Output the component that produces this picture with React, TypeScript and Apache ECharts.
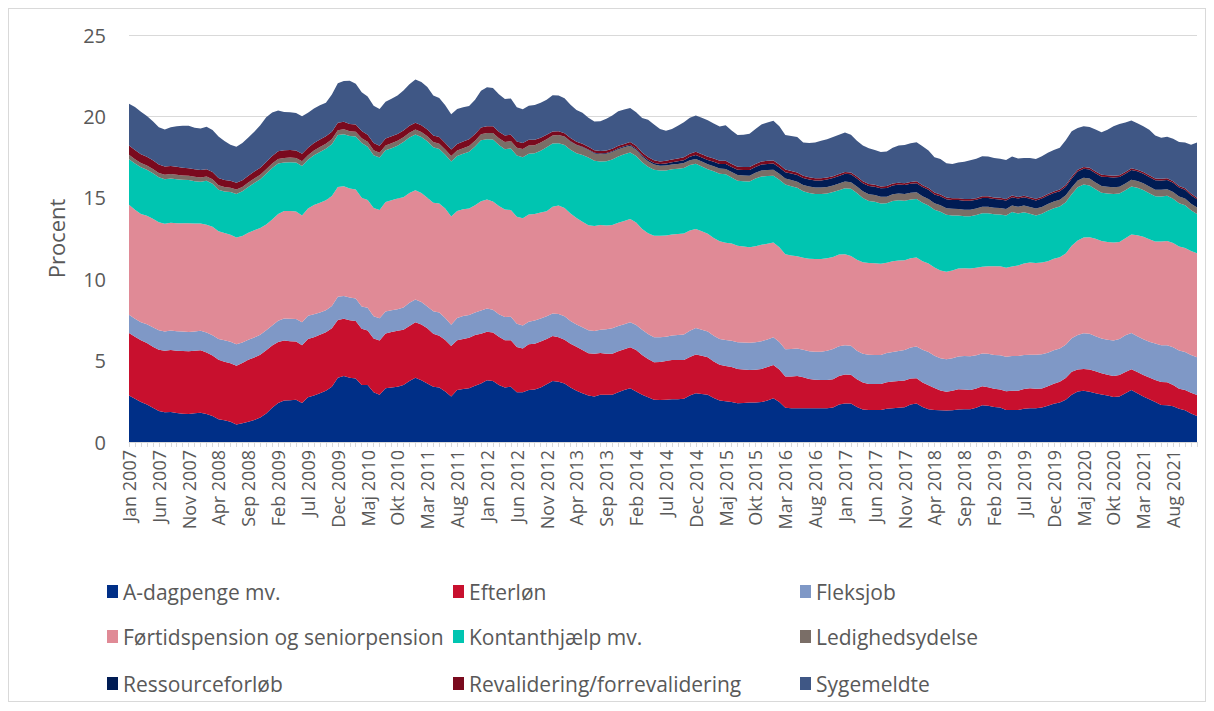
import { useEffect, useRef } from "react";
import * as echarts from "echarts";

const monthNames = ["Jan", "Feb", "Mar", "Apr", "Maj", "Jun", "Jul", "Aug", "Sep", "Okt", "Nov", "Dec"];
const years = [2007, 2008, 2009, 2010, 2011, 2012, 2013, 2014, 2015, 2016, 2017, 2018, 2019, 2020, 2021];
const categories = years.flatMap((y) => monthNames.map((m) => `${m} ${y}`));

const seriesNames = [
  "A-dagpenge mv.",
  "Efterløn",
  "Fleksjob",
  "Førtidspension og seniorpension",
  "Kontanthjælp mv.",
  "Ledighedsydelse",
  "Ressourceforløb",
  "Revalidering/forrevalidering",
  "Sygemeldte",
];

const seriesColors = ["#002F87", "#C8102E", "#7F98C6", "#E08A96", "#00C5B1", "#7A6E67", "#001C54", "#7A0A1E", "#3F5785"];

const aDagpenge = [
  2.85, 2.65, 2.45, 2.3, 2.1, 1.9, 1.82, 1.85, 1.78, 1.74, 1.72, 1.76, 1.8, 1.72, 1.6, 1.4, 1.33, 1.25, 1.08, 1.15, 1.25, 1.35, 1.5, 1.75, 2.1, 2.4, 2.55, 2.57, 2.6, 2.4,
  2.75, 2.85, 3.0, 3.15, 3.4, 3.95, 4.05, 3.95, 3.9, 3.5, 3.5, 3.05, 2.9, 3.3, 3.35, 3.4, 3.5, 3.75, 3.95, 3.8, 3.6, 3.4, 3.35, 3.1, 2.8, 3.2, 3.25, 3.3, 3.45, 3.6,
  3.8, 3.75, 3.5, 3.35, 3.4, 3.05, 3.05, 3.2, 3.22, 3.35, 3.55, 3.75, 3.7, 3.6, 3.35, 3.15, 3.0, 2.85, 2.8, 2.9, 2.9, 2.9, 3.05, 3.2, 3.3, 3.1, 2.9, 2.75, 2.6, 2.58,
  2.6, 2.62, 2.62, 2.65, 2.85, 3.0, 2.95, 2.9, 2.7, 2.55, 2.5, 2.45, 2.38, 2.4, 2.42, 2.42, 2.45, 2.55, 2.68, 2.45, 2.1, 2.07, 2.07, 2.07, 2.07, 2.07, 2.07, 2.07, 2.12, 2.3,
  2.37, 2.37, 2.15, 2.0, 1.97, 1.97, 1.97, 2.05, 2.08, 2.1, 2.13, 2.3, 2.37, 2.15, 2.01, 1.97, 1.95, 1.93, 1.95, 2.0, 2.01, 2.01, 2.1, 2.25, 2.22, 2.15, 2.12, 1.97, 1.97, 1.97,
  2.05, 2.07, 2.07, 2.12, 2.22, 2.35, 2.42, 2.6, 2.9, 3.1, 3.15, 3.08, 3.0, 2.92, 2.85, 2.76, 2.8, 3.0, 3.2, 3.0, 2.8, 2.62, 2.45, 2.28, 2.25, 2.2, 2.05, 1.95, 1.75, 1.6,
];

const efterloen = [
  3.84, 3.82, 3.8, 3.78, 3.75, 3.76, 3.78, 3.8, 3.82, 3.85, 3.86, 3.85, 3.84, 3.78, 3.72, 3.65, 3.6, 3.58, 3.6, 3.7, 3.8, 3.84, 3.86, 3.88, 3.82, 3.75, 3.68, 3.62, 3.58, 3.55,
  3.58, 3.59, 3.59, 3.59, 3.58, 3.55, 3.52, 3.53, 3.54, 3.45, 3.35, 3.3, 3.33, 3.36, 3.4, 3.43, 3.4, 3.38, 3.4, 3.42, 3.38, 3.25, 3.18, 3.17, 3.1, 3.05, 3.07, 3.1, 3.12, 3.05,
  2.97, 2.97, 2.97, 2.9, 2.85, 2.78, 2.7, 2.8, 2.82, 2.82, 2.78, 2.76, 2.74, 2.68, 2.68, 2.7, 2.65, 2.6, 2.62, 2.57, 2.52, 2.52, 2.52, 2.5, 2.52, 2.55, 2.45, 2.35, 2.3, 2.33,
  2.38, 2.42, 2.42, 2.38, 2.37, 2.38, 2.35, 2.31, 2.25, 2.2, 2.17, 2.15, 2.1, 2.05, 2.0, 2.02, 2.04, 2.05, 2.05, 2.0, 1.92, 1.95, 1.98, 1.9, 1.8, 1.76, 1.74, 1.74, 1.74, 1.75,
  1.78, 1.76, 1.7, 1.65, 1.6, 1.59, 1.59, 1.62, 1.63, 1.64, 1.64, 1.6, 1.54, 1.5, 1.48, 1.35, 1.22, 1.16, 1.2, 1.24, 1.22, 1.18, 1.18, 1.17, 1.15, 1.12, 1.11, 1.14, 1.18, 1.18,
  1.2, 1.23, 1.2, 1.17, 1.2, 1.23, 1.28, 1.33, 1.42, 1.35, 1.33, 1.37, 1.35, 1.3, 1.28, 1.3, 1.31, 1.3, 1.27, 1.3, 1.32, 1.34, 1.36, 1.4, 1.42, 1.3, 1.22, 1.25, 1.27, 1.29,
];

const fleksjob = [
  1.12, 1.1, 1.1, 1.15, 1.2, 1.2, 1.19, 1.2, 1.21, 1.2, 1.18, 1.18, 1.2, 1.22, 1.24, 1.28, 1.32, 1.33, 1.32, 1.26, 1.23, 1.23, 1.23, 1.23, 1.23, 1.3, 1.36, 1.38, 1.38, 1.4,
  1.42, 1.4, 1.37, 1.35, 1.38, 1.42, 1.4, 1.39, 1.38, 1.38, 1.39, 1.38, 1.37, 1.36, 1.34, 1.32, 1.36, 1.42, 1.4, 1.38, 1.35, 1.38, 1.42, 1.35, 1.3, 1.36, 1.42, 1.4, 1.38, 1.42,
  1.43, 1.4, 1.38, 1.43, 1.44, 1.43, 1.4, 1.38, 1.42, 1.42, 1.4, 1.39, 1.42, 1.44, 1.4, 1.36, 1.4, 1.42, 1.4, 1.43, 1.5, 1.56, 1.55, 1.54, 1.53, 1.53, 1.54, 1.54, 1.53, 1.52,
  1.48, 1.5, 1.53, 1.58, 1.62, 1.63, 1.6, 1.58, 1.58, 1.58, 1.59, 1.62, 1.64, 1.66, 1.68, 1.69, 1.7, 1.7, 1.7, 1.69, 1.68, 1.69, 1.7, 1.7, 1.7, 1.72, 1.74, 1.8, 1.86, 1.83,
  1.79, 1.78, 1.76, 1.77, 1.79, 1.79, 1.79, 1.79, 1.82, 1.85, 1.88, 1.9, 1.96, 2.02, 2.04, 1.98, 1.97, 1.99, 2.0, 2.01, 2.05, 2.08, 2.05, 2.02, 2.05, 2.08, 2.1, 2.12, 2.13, 2.13,
  2.1, 2.06, 2.09, 2.1, 2.06, 2.05, 2.05, 2.05, 2.05, 2.12, 2.2, 2.2, 2.15, 2.13, 2.15, 2.17, 2.22, 2.26, 2.22, 2.2, 2.19, 2.2, 2.24, 2.26, 2.28, 2.32, 2.35, 2.33, 2.32, 2.31,
];

const foertidspension = [
  6.76, 6.7, 6.66, 6.66, 6.66, 6.64, 6.61, 6.61, 6.63, 6.65, 6.67, 6.63, 6.58, 6.62, 6.66, 6.62, 6.59, 6.57, 6.56, 6.55, 6.57, 6.59, 6.55, 6.5, 6.52, 6.56, 6.6, 6.62, 6.6, 6.56,
  6.6, 6.72, 6.74, 6.76, 6.75, 6.75, 6.74, 6.7, 6.69, 6.68, 6.62, 6.64, 6.65, 6.72, 6.76, 6.8, 6.78, 6.75, 6.72, 6.7, 6.68, 6.66, 6.7, 6.72, 6.65, 6.58, 6.55, 6.55, 6.6, 6.72,
  6.7, 6.66, 6.64, 6.6, 6.56, 6.58, 6.6, 6.6, 6.54, 6.5, 6.45, 6.55, 6.66, 6.65, 6.6, 6.55, 6.48, 6.45, 6.45, 6.43, 6.38, 6.35, 6.34, 6.34, 6.35, 6.3, 6.2, 6.18, 6.24, 6.24,
  6.22, 6.21, 6.21, 6.2, 6.15, 6.08, 6.05, 6.0, 6.0, 6.0, 5.98, 5.97, 5.94, 5.9, 5.87, 5.9, 5.92, 5.88, 5.82, 5.82, 5.83, 5.75, 5.66, 5.64, 5.68, 5.69, 5.69, 5.68, 5.65, 5.63,
  5.6, 5.52, 5.58, 5.62, 5.63, 5.63, 5.6, 5.55, 5.58, 5.56, 5.52, 5.48, 5.46, 5.44, 5.43, 5.42, 5.4, 5.38, 5.39, 5.41, 5.4, 5.39, 5.37, 5.33, 5.38, 5.44, 5.46, 5.48, 5.5, 5.56,
  5.62, 5.66, 5.64, 5.63, 5.63, 5.62, 5.6, 5.6, 5.68, 5.8, 5.88, 5.92, 5.98, 6.0, 6.01, 6.02, 5.96, 5.95, 6.05, 6.2, 6.3, 6.3, 6.27, 6.38, 6.4, 6.4, 6.39, 6.39, 6.39, 6.39,
];

const kontanthjaelp = [
  2.8, 2.83, 2.86, 2.83, 2.8, 2.76, 2.74, 2.73, 2.7, 2.67, 2.66, 2.6, 2.56, 2.7, 2.65, 2.55, 2.55, 2.62, 2.68, 2.74, 2.82, 2.9, 3.0, 3.12, 3.16, 3.1, 2.98, 3.0, 3.01, 3.05,
  2.98, 3.05, 3.12, 3.17, 3.18, 3.18, 3.2, 3.22, 3.25, 3.35, 3.28, 3.25, 3.22, 3.18, 3.2, 3.25, 3.38, 3.4, 3.42, 3.44, 3.46, 3.42, 3.35, 3.3, 3.38, 3.38, 3.42, 3.48, 3.6, 3.75,
  3.7, 3.8, 3.75, 3.7, 3.78, 3.76, 3.74, 3.73, 3.73, 3.8, 3.92, 3.88, 3.83, 3.88, 3.92, 3.98, 4.1, 4.15, 4.0, 3.9, 3.95, 4.03, 4.08, 4.1, 4.09, 4.09, 4.09, 4.09, 4.05, 4.0,
  4.0, 4.0, 4.0, 4.02, 4.02, 4.0, 3.98, 3.97, 4.1, 4.15, 4.2, 4.05, 3.99, 4.0, 4.03, 4.15, 4.2, 4.16, 4.1, 4.15, 4.28, 4.25, 4.2, 4.1, 4.05, 4.0, 3.99, 3.98, 3.98, 3.96,
  4.05, 4.12, 4.1, 3.95, 3.82, 3.78, 3.7, 3.65, 3.7, 3.7, 3.65, 3.62, 3.6, 3.58, 3.56, 3.54, 3.6, 3.5, 3.38, 3.25, 3.19, 3.21, 3.24, 3.28, 3.25, 3.2, 3.19, 3.2, 3.35, 3.2,
  3.15, 3.0, 2.92, 3.0, 3.1, 3.11, 3.12, 3.15, 3.17, 3.28, 3.25, 3.19, 3.05, 2.96, 2.98, 2.99, 2.98, 2.96, 2.96, 2.92, 2.87, 2.82, 2.77, 2.76, 2.77, 2.72, 2.66, 2.62, 2.5, 2.41,
];

const ledighedsydelse = [
  0.27, 0.27, 0.26, 0.26, 0.26, 0.26, 0.27, 0.27, 0.27, 0.26, 0.26, 0.27, 0.27, 0.27, 0.27, 0.27, 0.27, 0.27, 0.27, 0.27, 0.27, 0.27, 0.27, 0.27, 0.27, 0.28, 0.28, 0.28, 0.28, 0.29,
  0.29, 0.29, 0.3, 0.3, 0.3, 0.3, 0.3, 0.3, 0.3, 0.3, 0.3, 0.3, 0.3, 0.3, 0.3, 0.3, 0.3, 0.3, 0.3, 0.3, 0.31, 0.31, 0.32, 0.32, 0.33, 0.33, 0.34, 0.35, 0.36, 0.37,
  0.38, 0.4, 0.42, 0.44, 0.46, 0.48, 0.5, 0.5, 0.5, 0.5, 0.5, 0.5, 0.5, 0.5, 0.5, 0.5, 0.48, 0.46, 0.45, 0.45, 0.45, 0.45, 0.44, 0.42, 0.4, 0.38, 0.36, 0.34, 0.32, 0.3,
  0.3, 0.3, 0.3, 0.3, 0.3, 0.3, 0.3, 0.3, 0.31, 0.32, 0.33, 0.34, 0.35, 0.36, 0.36, 0.36, 0.37, 0.37, 0.37, 0.37, 0.37, 0.38, 0.38, 0.38, 0.39, 0.39, 0.4, 0.4, 0.41, 0.41,
  0.41, 0.41, 0.41, 0.41, 0.41, 0.41, 0.41, 0.41, 0.41, 0.41, 0.41, 0.41, 0.41, 0.41, 0.41, 0.4, 0.4, 0.4, 0.4, 0.4, 0.4, 0.4, 0.4, 0.4, 0.4, 0.4, 0.4, 0.4, 0.4, 0.41,
  0.41, 0.42, 0.42, 0.42, 0.41, 0.41, 0.41, 0.42, 0.42, 0.42, 0.42, 0.42, 0.41, 0.41, 0.41, 0.41, 0.41, 0.41, 0.41, 0.41, 0.41, 0.41, 0.41, 0.41, 0.41, 0.41, 0.41, 0.41, 0.41, 0.41,
];

const ressourceforloeb = [
  0, 0, 0, 0, 0, 0, 0, 0, 0, 0, 0, 0, 0, 0, 0, 0, 0, 0, 0, 0, 0, 0, 0, 0, 0, 0, 0, 0, 0, 0,
  0, 0, 0, 0, 0, 0, 0, 0, 0, 0, 0, 0, 0, 0, 0, 0, 0, 0, 0, 0, 0, 0, 0, 0, 0, 0, 0, 0, 0, 0,
  0, 0, 0, 0, 0, 0, 0, 0, 0, 0, 0, 0, 0.01, 0.01, 0.02, 0.02, 0.03, 0.03, 0.04, 0.04, 0.05, 0.05, 0.06, 0.06, 0.07, 0.08, 0.08, 0.09, 0.1, 0.1,
  0.12, 0.14, 0.16, 0.18, 0.21, 0.24, 0.25, 0.26, 0.27, 0.28, 0.3, 0.31, 0.32, 0.33, 0.34, 0.35, 0.36, 0.37, 0.38, 0.38, 0.39, 0.4, 0.41, 0.42, 0.43, 0.44, 0.44, 0.45, 0.45, 0.46,
  0.47, 0.48, 0.49, 0.5, 0.5, 0.51, 0.52, 0.53, 0.54, 0.55, 0.55, 0.55, 0.56, 0.56, 0.56, 0.55, 0.55, 0.55, 0.55, 0.55, 0.55, 0.55, 0.54, 0.54, 0.54, 0.53, 0.52, 0.52, 0.51, 0.5,
  0.5, 0.5, 0.5, 0.51, 0.52, 0.52, 0.53, 0.53, 0.54, 0.55, 0.55, 0.56, 0.57, 0.58, 0.59, 0.6, 0.6, 0.6, 0.6, 0.6, 0.59, 0.59, 0.58, 0.58, 0.57, 0.57, 0.55, 0.54, 0.52, 0.5,
];

const revalidering = [
  0.57, 0.56, 0.55, 0.54, 0.53, 0.52, 0.51, 0.5, 0.49, 0.48, 0.47, 0.46, 0.45, 0.45, 0.44, 0.44, 0.43, 0.42, 0.41, 0.41, 0.42, 0.43, 0.44, 0.45, 0.46, 0.47, 0.47, 0.47, 0.46, 0.46,
  0.46, 0.46, 0.46, 0.46, 0.46, 0.46, 0.46, 0.45, 0.45, 0.45, 0.44, 0.44, 0.43, 0.43, 0.43, 0.42, 0.42, 0.42, 0.42, 0.42, 0.42, 0.41, 0.41, 0.41, 0.41, 0.41, 0.41, 0.41, 0.41, 0.41,
  0.41, 0.41, 0.4, 0.4, 0.39, 0.38, 0.37, 0.35, 0.33, 0.3, 0.28, 0.25, 0.23, 0.21, 0.2, 0.19, 0.18, 0.17, 0.16, 0.16, 0.15, 0.15, 0.15, 0.15, 0.16, 0.16, 0.16, 0.16, 0.16, 0.16,
  0.17, 0.17, 0.18, 0.18, 0.19, 0.2, 0.2, 0.2, 0.2, 0.2, 0.2, 0.19, 0.19, 0.19, 0.19, 0.19, 0.19, 0.19, 0.19, 0.18, 0.17, 0.16, 0.15, 0.14, 0.14, 0.13, 0.13, 0.13, 0.12, 0.12,
  0.12, 0.12, 0.12, 0.12, 0.12, 0.12, 0.12, 0.12, 0.12, 0.12, 0.11, 0.11, 0.11, 0.11, 0.11, 0.11, 0.11, 0.11, 0.11, 0.11, 0.1, 0.1, 0.1, 0.1, 0.1, 0.1, 0.1, 0.1, 0.1, 0.1,
  0.1, 0.1, 0.1, 0.1, 0.1, 0.1, 0.1, 0.11, 0.11, 0.11, 0.11, 0.11, 0.11, 0.11, 0.11, 0.1, 0.1, 0.1, 0.1, 0.1, 0.1, 0.1, 0.1, 0.1, 0.1, 0.1, 0.1, 0.1, 0.1, 0.1,
];

const sygemeldte = [
  2.56, 2.65, 2.6, 2.5, 2.4, 2.3, 2.28, 2.38, 2.5, 2.58, 2.6, 2.55, 2.56, 2.6, 2.58, 2.55, 2.4, 2.22, 2.22, 2.28, 2.35, 2.45, 2.6, 2.75, 2.68, 2.5, 2.35, 2.32, 2.3, 2.3,
  2.15, 2.12, 2.1, 2.06, 2.3, 2.42, 2.5, 2.65, 2.5, 2.38, 2.35, 2.3, 2.26, 2.25, 2.3, 2.36, 2.45, 2.55, 2.65, 2.66, 2.6, 2.45, 2.4, 2.32, 2.16, 2.15, 2.1, 2.05, 2.1, 2.25,
  2.4, 2.36, 2.3, 2.25, 2.22, 2.1, 2.08, 2.1, 2.14, 2.15, 2.15, 2.22, 2.2, 2.15, 2.05, 1.95, 1.9, 1.78, 1.76, 1.82, 1.95, 2.05, 2.12, 2.12, 2.1, 2.07, 2.12, 2.3, 2.2, 2.0,
  1.85, 1.86, 2.0, 2.15, 2.2, 2.22, 2.24, 2.25, 2.15, 2.1, 2.18, 2.05, 1.95, 1.98, 2.05, 2.15, 2.28, 2.35, 2.45, 2.35, 2.12, 2.15, 2.18, 2.05, 2.1, 2.2, 2.3, 2.35, 2.4, 2.42,
  2.42, 2.32, 2.2, 2.2, 2.2, 2.14, 2.12, 2.12, 2.2, 2.28, 2.35, 2.38, 2.4, 2.4, 2.3, 2.17, 2.18, 2.1, 2.1, 2.2, 2.3, 2.38, 2.42, 2.46, 2.45, 2.42, 2.4, 2.39, 2.4, 2.36,
  2.32, 2.4, 2.45, 2.5, 2.53, 2.55, 2.56, 2.75, 2.8, 2.55, 2.5, 2.5, 2.58, 2.62, 2.8, 3.05, 3.15, 3.05, 2.94, 2.85, 2.82, 2.8, 2.65, 2.52, 2.55, 2.6, 2.7, 2.8, 3.0, 3.38,
];

const seriesData = [aDagpenge, efterloen, fleksjob, foertidspension, kontanthjaelp, ledighedsydelse, ressourceforloeb, revalidering, sygemeldte];

const yTicks = { min: 0, max: 25, interval: 5 };

const FONT = "'Open Sans', 'Noto Sans', sans-serif";
const TEXT_COLOR = "#595959";

export default function App() {
  const ref = useRef<HTMLDivElement>(null);

  useEffect(() => {
    if (!ref.current) return;
    const chart = echarts.init(ref.current, null, { renderer: "svg" });
    const legendLeft = [98, 444, 791];
    const legendTop = [572, 617, 664];
    chart.setOption({
      animation: false,
      grid: { left: 120, top: 26, width: 1068, height: 407, containLabel: false },
      xAxis: {
        type: "category",
        data: categories,
        boundaryGap: false,
        axisLine: { show: true, lineStyle: { color: "#d9d9d9", width: 1 } },
        axisTick: { show: true, interval: 0, length: 5, lineStyle: { color: "#d9d9d9" } },
        axisLabel: {
          interval: 4,
          rotate: 90,
          color: TEXT_COLOR,
          fontSize: 18,
          fontFamily: FONT,
          margin: 8,
        },
        splitLine: { show: false },
      },
      yAxis: {
        type: "value",
        min: yTicks.min,
        max: yTicks.max,
        interval: yTicks.interval,
        name: "Procent",
        nameLocation: "middle",
        nameRotate: 90,
        nameGap: 62,
        nameTextStyle: { color: TEXT_COLOR, fontSize: 22, fontFamily: FONT },
        axisLine: { show: false },
        axisTick: { show: false },
        axisLabel: { color: TEXT_COLOR, fontSize: 20, fontFamily: FONT, margin: 23 },
        splitLine: { show: true, lineStyle: { color: "#d9d9d9", width: 1 } },
      },
      legend: seriesNames.map((name, i) => ({
        data: [name],
        left: legendLeft[i % 3],
        top: legendTop[Math.floor(i / 3)],
        icon: "rect",
        itemWidth: 11,
        itemHeight: 13,
        itemGap: 0,
        padding: 0,
        selectedMode: false,
        textStyle: { color: TEXT_COLOR, fontSize: 21, fontFamily: FONT },
      })),
      series: seriesNames.map((name, i) => ({
        name,
        type: "line",
        stack: "total",
        data: seriesData[i],
        symbol: "none",
        showSymbol: false,
        lineStyle: { width: 0 },
        itemStyle: { color: seriesColors[i] },
        areaStyle: { color: seriesColors[i], opacity: 1 },
        emphasis: { disabled: true },
      })),
    });
    return () => chart.dispose();
  }, []);

  return (
    <div
      ref={ref}
      style={{
        width: 1198,
        height: 694,
        border: "1px solid #d9d9d9",
        boxSizing: "border-box",
        background: "#ffffff",
      }}
    />
  );
}
